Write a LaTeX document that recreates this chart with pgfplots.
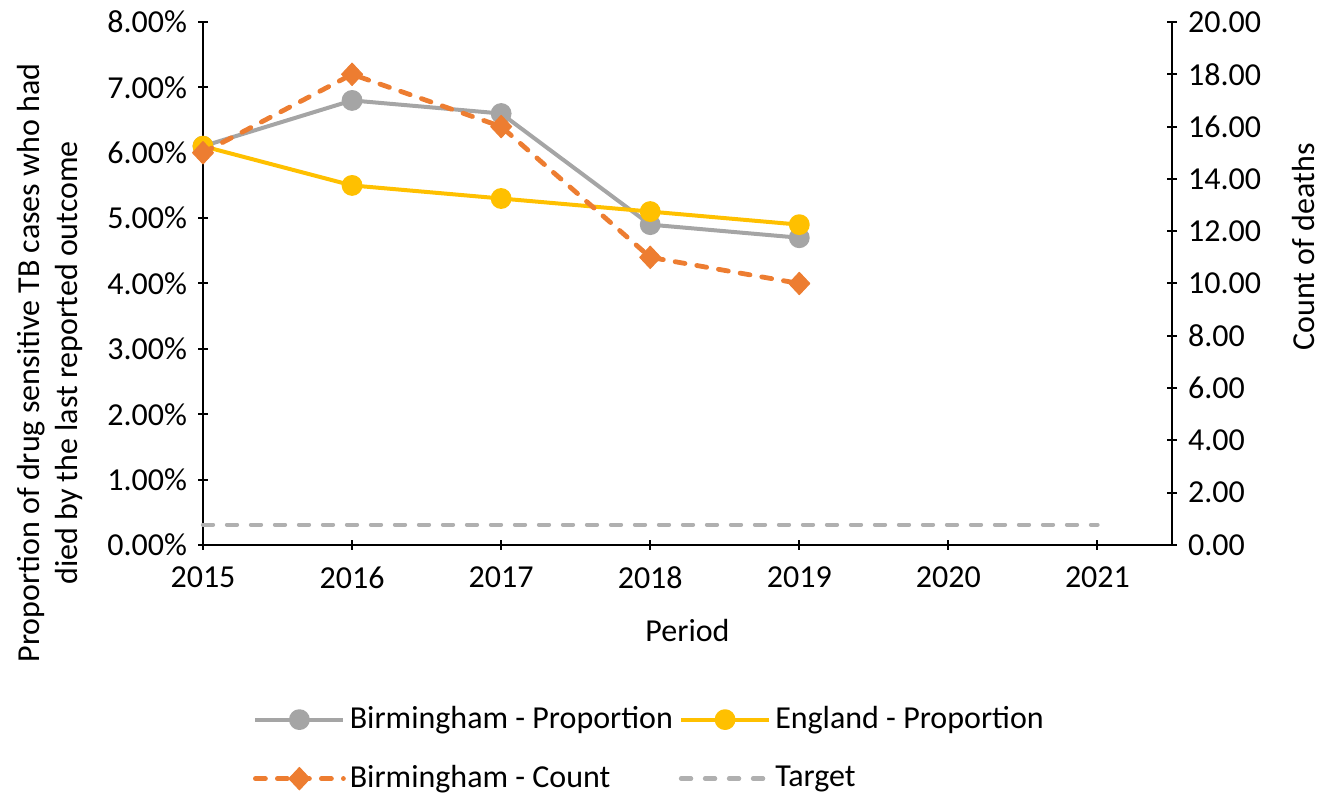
\documentclass[border=0pt]{standalone}
\usepackage{fontspec}
\setmainfont{Carlito}
\usepackage{pgfplots}
\pgfplotsset{compat=1.18}
\definecolor{bgray}{HTML}{A5A5A5}
\definecolor{gold}{HTML}{FFC000}
\definecolor{orng}{HTML}{ED7D31}
\definecolor{tgray}{HTML}{B0B0B0}
\begin{document}
\fontsize{16}{19}\selectfont
\begin{tikzpicture}
\pgfplotsset{
  every axis/.append style={
    scale only axis, width=484.5pt, height=261.5pt,
    xmin=2015, xmax=2021.5,
    clip=false,
    tick align=outside, major tick length=5pt,
    every tick/.style={black, line width=1pt},
    font=\fontsize{16}{19}\selectfont,
    /pgf/number format/assume math mode=true,
    legend image code/.code={\draw[mark repeat=2,mark phase=2,##1] plot coordinates {(0pt,0pt) (22pt,0pt) (44pt,0pt)};},
  },
  bstyle/.style={color=bgray, line width=2pt, line join=round, mark=*, mark size=4.2pt, mark options={solid, fill=bgray, draw=bgray}},
  estyle/.style={color=gold, line width=2pt, line join=round, mark=*, mark size=4.2pt, mark options={solid, fill=gold, draw=gold}},
  cstyle/.style={color=orng, line width=2.4pt, line cap=round, line join=round, dash pattern=on 5pt off 6pt, mark=diamond*, mark size=5.6pt, mark options={solid, xscale=1.25, fill=orng, draw=orng, line width=0.5pt}},
  tstyle/.style={color=tgray, line width=2.2pt, line cap=round, dash pattern=on 5pt off 7pt},
}
\begin{axis}[
  axis x line=bottom, axis y line=left,
  x axis line style={-, black, line width=1pt},
  y axis line style={-, black, line width=1pt},
  ymin=0, ymax=8, ytick={0,1,2,3,4,5,6,7,8},
  yticklabel={\pgfmathprintnumber[fixed,fixed zerofill,precision=2]{\tick}\%},
  xtick={2015,2016,2017,2018,2019,2020,2021},
  xticklabel style={/pgf/number format/1000 sep={}, yshift=-3pt},
  xlabel={Period},
  xlabel style={yshift=-4pt},
  ylabel={Proportion of drug sensitive TB cases who had\\died by the last reported outcome},
  ylabel style={align=center, at={(axis description cs:-0.158,0.348)}, anchor=center},
]
\addplot[bstyle] coordinates {
 (2015,6.1) (2016,6.8) (2017,6.6) (2018,4.9) (2019,4.7)};
\addplot[estyle] coordinates {
 (2015,6.1) (2016,5.5) (2017,5.3) (2018,5.1) (2019,4.9)};
\addplot[tstyle] coordinates {
 (2015,0.31) (2016,0.31) (2017,0.31) (2018,0.31) (2019,0.31) (2020,0.31) (2021,0.31)};
\end{axis}
\begin{axis}[
  axis x line=none, axis y line=right,
  y axis line style={-, black, line width=1pt},
  ymin=0, ymax=20, ytick={0,2,4,6,8,10,12,14,16,18,20},
  yticklabel style={/pgf/number format/.cd, fixed, fixed zerofill, precision=2},
  ylabel={Count of deaths},
  ylabel style={at={(axis description cs:1.136,0.57)}, anchor=center},
  legend columns=2,
  legend cell align=left,
  legend style={at={(axis description cs:0.045,-0.292)}, anchor=north west, draw=none, fill=none,
    font=\fontsize{16}{19}\selectfont, row sep=12pt,
    /tikz/every even column/.append style={column sep=1pt}},
]
\addlegendimage{bstyle}
\addlegendimage{estyle}
\addplot[cstyle] coordinates {
 (2015,15) (2016,18) (2017,16) (2018,11) (2019,10)};
\addlegendimage{tstyle}
\legend{Birmingham - Proportion, England - Proportion, Birmingham - Count, Target}
\end{axis}
\pgfresetboundingbox
\path (-101.5pt,-125.5pt) rectangle (563.5pt,272.5pt);
\end{tikzpicture}
\end{document}
